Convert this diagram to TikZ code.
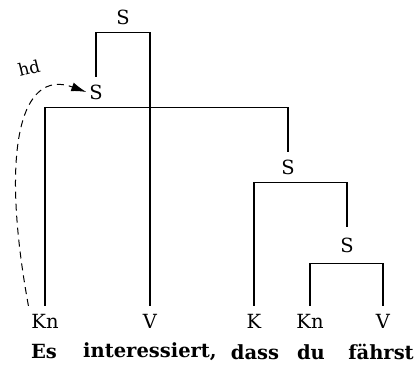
\documentclass[tikz,border=0pt]{standalone}
\usepackage{fontspec}
\setmainfont{DejaVu Serif}
\usetikzlibrary{arrows.meta}
\begin{document}
\begin{tikzpicture}[x=1pt,y=-1pt,
  lab/.style={inner sep=0pt, outer xsep=3pt, outer ysep=8pt, font=\fontsize{19.5}{22}\selectfont},
  word/.style={inner sep=0pt, font=\fontsize{19.5}{22}\selectfont\bfseries},
  br/.style={line width=1.5pt},
  dep/.style={dash pattern=on 7pt off 5pt, line width=1pt, -{Latex[length=15pt,width=9pt]}}]
\useasboundingbox (0,0) rectangle (417,366);
\node[lab] (S1) at (123,17) {S};
\node[lab] (S2) at (96,92) {S};
\node[lab] (S3) at (288,167) {S};
\node[lab,outer ysep=11pt] (S4) at (347,245) {S};
\node[lab] (Kn1) at (45,321) {Kn};
\node[lab] (V1) at (150,321) {V};
\node[lab] (K) at (254,321) {K};
\node[lab] (Kn2) at (310,321) {Kn};
\node[lab] (V2) at (383,321) {V};
\node[word] (w1) at (44,352) {Es};
\node[word] (w2) at (150,352) {interessiert,};
\node[word] (w3) at (255,352) {dass};
\node[word] (w4) at (311,352) {du};
\node[word] (w5) at (381,352) {fährst};
\draw[br] (S2.north) |- (S1.south) -| (V1.north);
\draw[br] (Kn1.north) |- (S2.south) -| (S3.north);
\draw[br] (K.north) |- (S3.south) -| (S4.north);
\draw[br] (Kn2.north) |- (S4.south) -| (V2.north);
\draw[dep] (Kn1.north west) .. controls (0,150) and (20,68) .. (S2.west);
\node[lab, rotate=14, font=\fontsize{17}{20}\selectfont] (hd) at (29,68) {hd};
\end{tikzpicture}
\end{document}
